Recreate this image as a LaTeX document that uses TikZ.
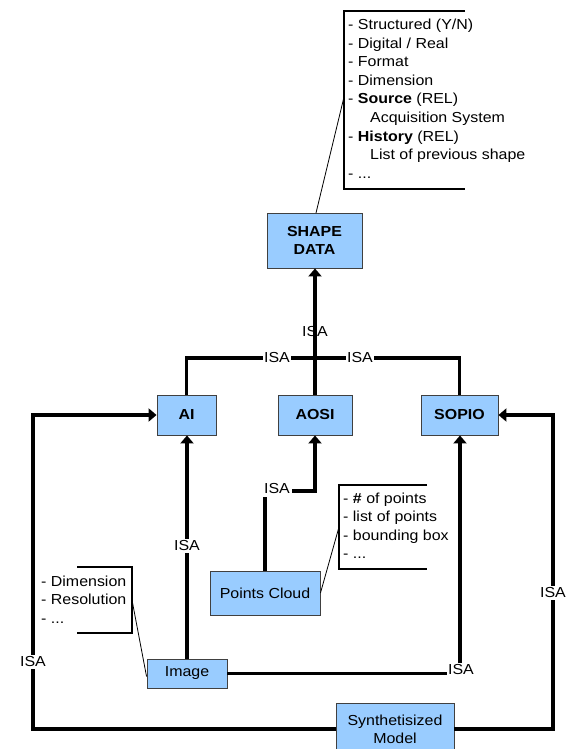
\documentclass[tikz,border=0pt]{standalone}
\usepackage{fontspec}
\setmainfont[FakeStretch=1.1]{Liberation Sans}
\usetikzlibrary{arrows.meta}
\definecolor{boxblue}{HTML}{99CCFF}
\definecolor{boxline}{HTML}{404040}
\tikzset{
  ent/.style={draw=boxline, line width=0.9pt, fill=boxblue, inner sep=0pt, align=center,
    font=\fontsize{14.5}{18}\selectfont},
  conn/.style={line width=3.2pt, line join=miter},
  arr/.style={conn, -{Triangle[length=8pt,width=13pt]}},
  isa/.style={font=\fontsize{14.5}{17}\selectfont, inner sep=1.5pt},
  isaw/.style={isa, fill=white},
  note/.style={font=\fontsize{14.5}{17}\selectfont, anchor=base west, inner sep=0pt},
  bracket/.style={line width=1.1pt},
  leader/.style={line width=0.8pt}
}
\begin{document}
\begin{tikzpicture}[x=1pt,y=-1pt]
\useasboundingbox (0,0) rectangle (569,749);

% entity boxes
\node[ent, minimum width=95, minimum height=55, font=\bfseries\fontsize{14.5}{18.5}\selectfont] (shape) at (314.5,240.5) {SHAPE\\DATA};
\node[ent, minimum width=59, minimum height=40, font=\bfseries\fontsize{14.5}{17}\selectfont] (ai) at (186.5,415) {AI};
\node[ent, minimum width=74, minimum height=40, font=\bfseries\fontsize{14.5}{17}\selectfont] (aosi) at (315,415) {AOSI};
\node[ent, minimum width=77, minimum height=40, font=\bfseries\fontsize{14.5}{17}\selectfont] (sopio) at (459.5,415) {SOPIO};
\node[ent, minimum width=110, minimum height=44] (pc) at (265,593) {Points Cloud};
\node[ent, minimum width=80, minimum height=29] (image) at (187,673.5) {Image};
\node[ent, minimum width=118, minimum height=52] (synth) at (395,729) {Synthetisized\\Model};

% helper coordinates
\coordinate (bus) at (315,358);
\coordinate (lft) at (33,0);
\coordinate (rgt) at (553,0);
\coordinate (pcturn) at (0,491);
\coordinate (imgturn) at (460,0);

% connectors
\draw[arr] (aosi.north) -- (aosi.north |- shape.south);
\node[isa] (isa1) at (315,332) {ISA};

\draw[conn] (ai.north) -- (ai.north |- bus) -- (sopio.north |- bus) -- (sopio.north);
\node[isaw] (isa2) at (277,358) {ISA};
\node[isaw] (isa3) at (360,358) {ISA};

\draw[arr] (synth.west) -- (lft |- synth.west) -- (lft |- ai.west) -- (ai.west);
\node[isaw] (isa4) at (33,662) {ISA};

\draw[arr] (synth.east) -- (rgt |- synth.east) -- (rgt |- sopio.east) -- (sopio.east);
\node[isaw] (isa5) at (553,593) {ISA};

\draw[arr] (image.north) -- (image.north |- ai.south);
\node[isaw] (isa6) at (187,546) {ISA};

\draw[arr] (image.east) -- (imgturn |- image.east) -- (imgturn |- sopio.south);
\node[isaw] (isa7) at (461,670) {ISA};

\draw[arr] (pc.north) -- (pc.north |- pcturn) -- (aosi.south |- pcturn) -- (aosi.south);
\node[isaw, inner sep=2.5pt] (isa8) at (277,489) {ISA};

% note: shape data
\draw[bracket] (465,11) -- (344,11) -- (344,189) -- (465,189);
\coordinate (n1) at (344,97);
\draw[leader] (316,213) -- (n1);
\node[note] (t1) at (348,30) {- Structured (Y/N)};
\node[note] (t2) at (348,48.5) {- Digital / Real};
\node[note] (t3) at (348,67) {- Format};
\node[note] (t4) at (348,85.5) {- Dimension};
\node[note] (t5) at (348,104) {- \textbf{Source} (REL)};
\node[note] (t6) at (370,122.5) {Acquisition System};
\node[note] (t7) at (348,141) {- \textbf{History} (REL)};
\node[note] (t8) at (370,159.5) {List of previous shape};
\node[note] (t9) at (348,178) {- ...};

% note: points cloud
\draw[bracket] (427,485) -- (339,485) -- (339,569) -- (427,569);
\coordinate (n2) at (339,527);
\draw[leader] (pc.east) -- (n2);
\node[note] (p1) at (343,503) {- \textbf{\#} of points};
\node[note] (p2) at (343,521.5) {- list of points};
\node[note] (p3) at (343,540) {- bounding box};
\node[note] (p4) at (343,558.5) {- ...};

% note: image
\draw[bracket] (77,567) -- (132,567) -- (132,633) -- (77,633);
\coordinate (n3) at (132,600);
\draw[leader] ([yshift=-3pt]image.west) -- (n3);
\node[note] (i1) at (41,586) {- Dimension};
\node[note] (i2) at (41,604.5) {- Resolution};
\node[note] (i3) at (41,623) {- ...};
\end{tikzpicture}
\end{document}
